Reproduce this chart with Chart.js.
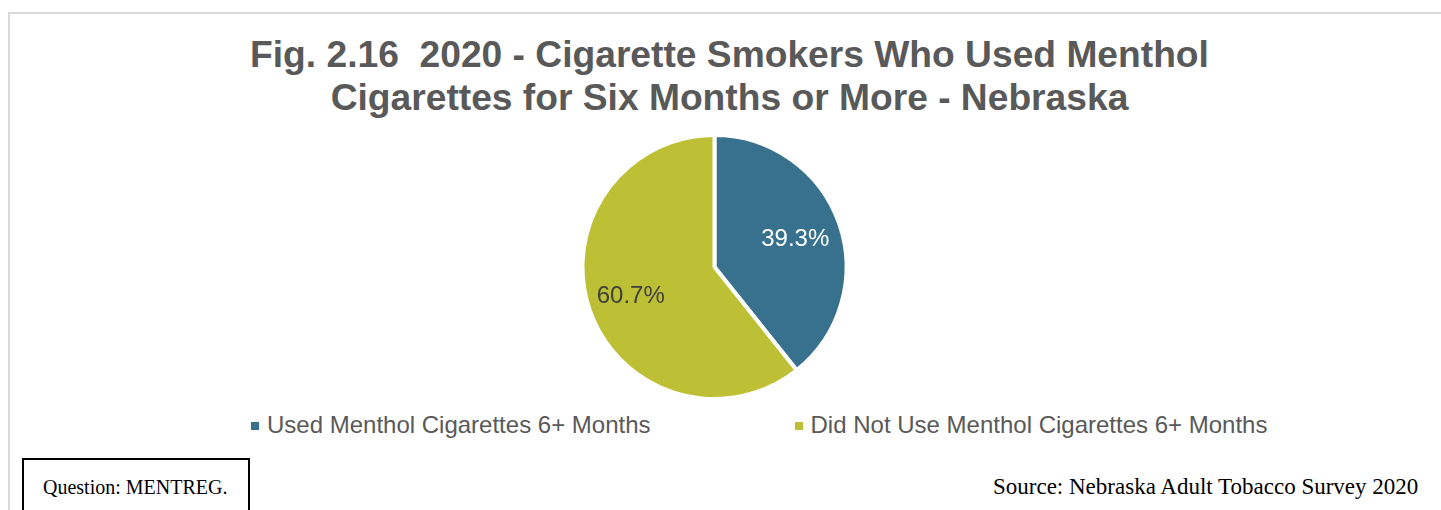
<!DOCTYPE html>
<html>
<head>
<meta charset="utf-8">
<script src="https://cdn.jsdelivr.net/npm/chart.js@4"></script>
<style>
    body {
        margin: 0;
        width: 1441px;
        height: 510px;
        overflow: hidden;
        background: #fff;
        position: relative;
        font-family: "Liberation Sans", Arial, sans-serif;
    }
    #frame {
        position: absolute;
        left: 8px;
        top: 12px;
        width: 1460px;
        height: 520px;
        border-left: 2px solid #d9d9d9;
        border-top: 2px solid #d9d9d9;
    }
    #title {
        position: absolute;
        left: 8px;
        top: 33px;
        width: 1443px;
        margin: 0;
        text-align: center;
        font: bold 37.2px/43px "Liberation Sans", Arial, sans-serif;
        color: #595959;
        white-space: pre;
    }
    #pieBox {
        position: absolute;
        left: 514px;
        top: 133px;
        width: 401px;
        height: 268px;
    }
    #legend {
        position: absolute;
        left: 251px;
        top: 411px;
        display: flex;
        gap: 144px;
        font-size: 24px;
        line-height: 28px;
        color: #595959;
    }
    #legend .item {
        display: flex;
        align-items: center;
    }
    #legend .box {
        width: 8px;
        height: 8px;
        margin-right: 8px;
        margin-top: 1px;
    }
    #question {
        position: absolute;
        left: 22px;
        top: 458px;
        width: 228px;
        height: 54px;
        box-sizing: border-box;
        border: 2px solid #000;
        font: 20px "Liberation Serif", "Times New Roman", serif;
        padding: 16px 0 0 19px;
        color: #000;
    }
    #source {
        position: absolute;
        left: 993px;
        top: 474px;
        font: 23px "Liberation Serif", "Times New Roman", serif;
        color: #000;
    }
</style>
</head>
<body>
<div id="frame"></div>
<h1 id="title"></h1>
<div id="pieBox"><canvas id="mentholChart"></canvas></div>
<div id="legend"></div>
<div id="question">Question: MENTREG.</div>
<div id="source">Source: Nebraska Adult Tobacco Survey 2020</div>

<script>
const titleLines = ["Fig. 2.16  2020 - Cigarette Smokers Who Used Menthol", "Cigarettes for Six Months or More - Nebraska"];
const labels = ["Used Menthol Cigarettes 6+ Months", "Did Not Use Menthol Cigarettes 6+ Months"];
const values = [39.3, 60.7];
const colors = ["#37718e", "#bdc034"];
const labelColors = ["#ffffff", "#404040"];

document.getElementById("title").textContent = titleLines.join("\n");

// percent labels inside the slices
const sliceLabels = {
    id: "sliceLabels",
    afterDatasetsDraw(chart) {
        const ctx = chart.ctx;
        const arcs = chart.getDatasetMeta(0).data;
        const dist = [0.64, 0.68];
        ctx.save();
        ctx.font = "24px 'Liberation Sans', Arial, sans-serif";
        ctx.textAlign = "center";
        ctx.textBaseline = "middle";
        arcs.forEach((arc, i) => {
            const p = arc.getProps(["x", "y", "startAngle", "endAngle", "outerRadius"], true);
            const mid = (p.startAngle + p.endAngle) / 2;
            const r = p.outerRadius * dist[i];
            ctx.fillStyle = labelColors[i];
            ctx.fillText(values[i].toFixed(1) + "%", p.x + Math.cos(mid) * r + 1, p.y + Math.sin(mid) * r);
        });
        ctx.restore();
    }
};

const chart = new Chart(document.getElementById("mentholChart"), {
    type: "pie",
    data: {
        labels: labels,
        datasets: [{
                data: values,
                backgroundColor: colors,
                borderColor: "#ffffff",
                borderWidth: 4
            }]
    },
    options: {
        responsive: true,
        maintainAspectRatio: false,
        animation: false,
        layout: {padding: 0},
        plugins: {
            legend: {display: false},
            title: {display: false},
            tooltip: {enabled: false}
        }
    },
    plugins: [sliceLabels]
});

// legend from the chart data
const legend = document.getElementById("legend");
chart.data.labels.forEach((text, i) => {
    const item = document.createElement("div");
    item.className = "item";
    const box = document.createElement("span");
    box.className = "box";
    box.style.background = chart.data.datasets[0].backgroundColor[i];
    const label = document.createElement("span");
    label.textContent = text;
    item.appendChild(box);
    item.appendChild(label);
    legend.appendChild(item);
});
</script>
</body>
</html>
